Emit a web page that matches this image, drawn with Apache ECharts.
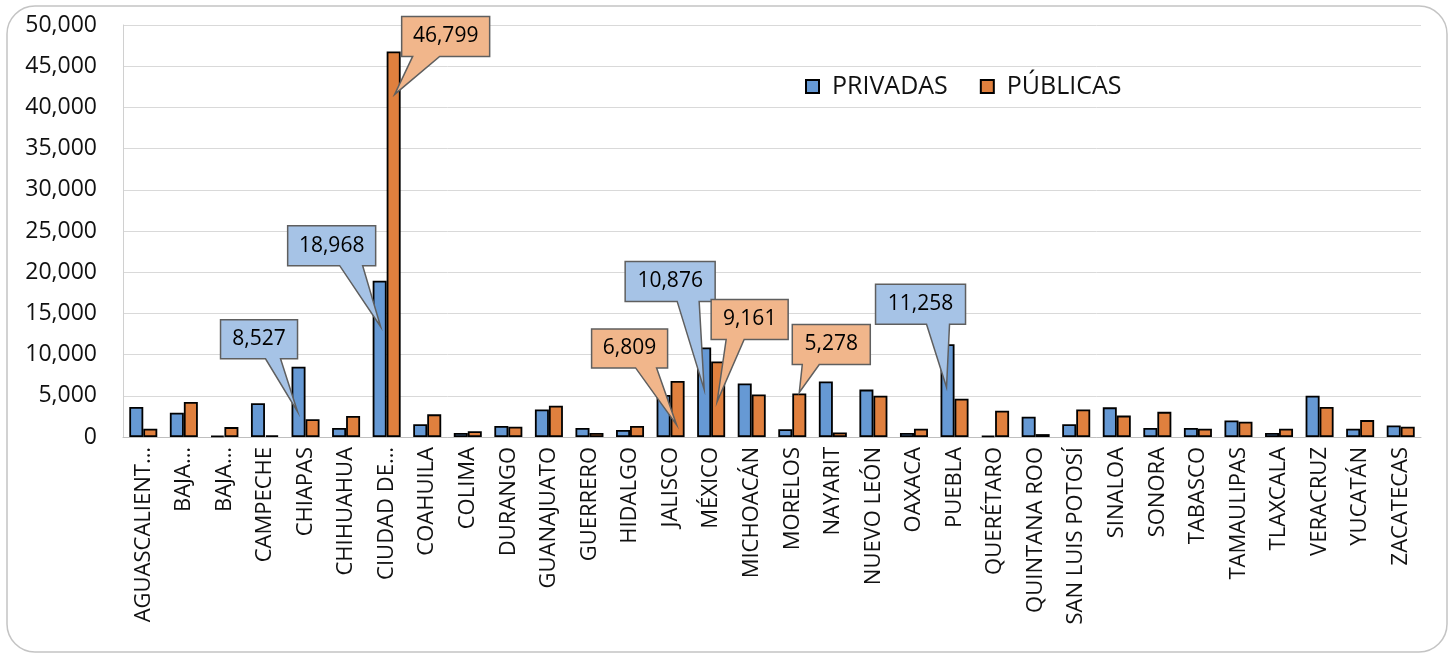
<!DOCTYPE html>
<html>
<head>
<meta charset="utf-8">
<script src="https://cdn.jsdelivr.net/npm/echarts@6/dist/echarts.min.js"></script>
<style>
html,body{margin:0;padding:0;background:#fff;}
#chart{width:1455px;height:657px;}
</style>
</head>
<body>
<div id="chart"></div>
<script>
// ---- data ----
const categories = ['AGUASCALIENTES','BAJA CALIFORNIA','BAJA CALIFORNIA SUR','CAMPECHE','CHIAPAS','CHIHUAHUA','CIUDAD DE MÉXICO','COAHUILA','COLIMA','DURANGO','GUANAJUATO','GUERRERO','HIDALGO','JALISCO','MÉXICO','MICHOACÁN','MORELOS','NAYARIT','NUEVO LEÓN','OAXACA','PUEBLA','QUERÉTARO','QUINTANA ROO','SAN LUIS POTOSÍ','SINALOA','SONORA','TABASCO','TAMAULIPAS','TLAXCALA','VERACRUZ','YUCATÁN','ZACATECAS'];
const tickLabels = ['AGUASCALIENT…','BAJA…','BAJA…','CAMPECHE','CHIAPAS','CHIHUAHUA','CIUDAD DE…','COAHUILA','COLIMA','DURANGO','GUANAJUATO','GUERRERO','HIDALGO','JALISCO','MÉXICO','MICHOACÁN','MORELOS','NAYARIT','NUEVO LEÓN','OAXACA','PUEBLA','QUERÉTARO','QUINTANA ROO','SAN LUIS POTOSÍ','SINALOA','SONORA','TABASCO','TAMAULIPAS','TLAXCALA','VERACRUZ','YUCATÁN','ZACATECAS'];
const privadas = [3650, 2950, 150, 4100, 8527, 1100, 18968, 1550, 500, 1350, 3350, 1100, 850, 5100, 10876, 6500, 950, 6750, 5750, 500, 11258, 150, 2450, 1550, 3600, 1100, 1100, 2000, 500, 5000, 1000, 1400];
const publicas = [1000, 4250, 1200, 200, 2150, 2550, 46799, 2750, 700, 1250, 3800, 500, 1350, 6809, 9161, 5150, 5278, 550, 5000, 1000, 4650, 3200, 350, 3350, 2600, 3050, 1000, 1850, 1000, 3650, 2050, 1250];
const seriesNames = ['PRIVADAS', 'PÚBLICAS'];
const yTicks = [0, 5000, 10000, 15000, 20000, 25000, 30000, 35000, 40000, 45000, 50000];

// callouts: which bar is annotated (style offsets relative to bar top-centre)
const callouts = [
  {s:0, i:4,  x0:-78, y0:-47, w:77, h:39, b1:-33, b2:-18, tx:-1, ty:45},
  {s:0, i:6,  x0:-92, y0:-55, w:88, h:40, b1:-40, b2:-17, tx:1,  ty:46},
  {s:1, i:6,  x0:8,   y0:-35, w:88, h:40, b1:19,  b2:46,  tx:1,  ty:43},
  {s:1, i:13, x0:-86, y0:-52, w:76, h:39, b1:-42, b2:-21, tx:-1, ty:44},
  {s:0, i:14, x0:-79, y0:-86, w:90, h:40, b1:-27, b2:-5,  tx:0,  ty:42},
  {s:1, i:14, x0:-7,  y0:-62, w:77, h:40, b1:8,   b2:26,  tx:-1, ty:40},
  {s:1, i:16, x0:-7,  y0:-69, w:78, h:40, b1:3,   b2:20,  tx:0,  ty:-1},
  {s:0, i:20, x0:-72, y0:-60, w:90, h:40, b1:-21, b2:2,   tx:-1, ty:43}
];

const FONT = '"Open Sans", "Noto Sans", sans-serif';
const barColors = ['#6699d4', '#e0803e'];
const calloutFill = ['#a6c3e6', '#f1b68b'];
const BW = 14;

const chart = echarts.init(document.getElementById('chart'), null, {renderer: 'canvas'});
const fmt = v => Number(v).toLocaleString('en-US');

const frame = {
  type: 'rect', id: 'frame', silent: true, z: -10,
  shape: {x: 7, y: 6, width: 1440, height: 646, r: 28},
  style: {fill: 'none', stroke: '#c4c4c4', lineWidth: 1.5}
};

chart.setOption({
  animation: false,
  backgroundColor: '#ffffff',
  textStyle: {fontFamily: FONT},
  grid: {left: 123, right: 34, top: 25, bottom: 220, containLabel: false},
  legend: {
    left: 800, top: 69,
    itemWidth: 13, itemHeight: 13, itemGap: 32,
    icon: 'rect',
    textStyle: {fontFamily: FONT, fontSize: 25, color: '#111', padding: [0, 0, 0, 8]},
    data: seriesNames
  },
  xAxis: {
    type: 'category',
    data: categories,
    axisLine: {lineStyle: {color: '#bfbfbf', width: 1}},
    axisTick: {show: false},
    axisLabel: {
      interval: 0, rotate: 90, margin: 10,
      fontFamily: FONT, fontSize: 22, color: '#111',
      formatter: (v, idx) => tickLabels[idx]
    }
  },
  yAxis: {
    type: 'value',
    min: yTicks[0], max: yTicks[yTicks.length - 1], interval: yTicks[1] - yTicks[0],
    axisLine: {show: true, lineStyle: {color: '#d0d0d0'}},
    axisTick: {show: false},
    splitLine: {lineStyle: {color: '#d9d9d9', width: 1}},
    axisLabel: {fontFamily: FONT, fontSize: 23, color: '#111', margin: 26, formatter: fmt}
  },
  series: [
    {
      name: seriesNames[0], type: 'bar', data: privadas,
      barWidth: BW, barGap: '0%',
      itemStyle: {color: barColors[0], borderColor: '#000', borderWidth: 1.8}
    },
    {
      name: seriesNames[1], type: 'bar', data: publicas,
      barWidth: BW, barGap: '0%',
      itemStyle: {color: barColors[1], borderColor: '#000', borderWidth: 1.8}
    }
  ],
  graphic: [frame]
});

// build callouts from the chart's own scales
const gfx = [frame];
const dataBySeries = [privadas, publicas];
callouts.forEach((c) => {
  const v = dataBySeries[c.s][c.i];
  const cx = chart.convertToPixel({xAxisIndex: 0}, c.i) + (c.s === 0 ? -BW / 2 : BW / 2);
  const ty = chart.convertToPixel({yAxisIndex: 0}, v);
  const L = cx + c.x0, T = ty + c.y0, R = L + c.w, B = T + c.h;
  const pts = [[L, T], [R, T], [R, B], [cx + c.b2, B], [cx + c.tx, ty + c.ty], [cx + c.b1, B], [L, B]];
  gfx.push({
    type: 'polygon', z: 100,
    shape: {points: pts},
    style: {fill: calloutFill[c.s], stroke: '#5f5f5f', lineWidth: 1.5, lineJoin: 'miter'}
  });
  gfx.push({
    type: 'text', z: 101,
    x: (L + R) / 2, y: (T + B) / 2,
    style: {text: fmt(v), fontFamily: FONT, fontSize: 21, fill: '#000', align: 'center', verticalAlign: 'middle'}
  });
});
chart.setOption({graphic: gfx}, {replaceMerge: ['graphic']});
</script>
</body>
</html>
